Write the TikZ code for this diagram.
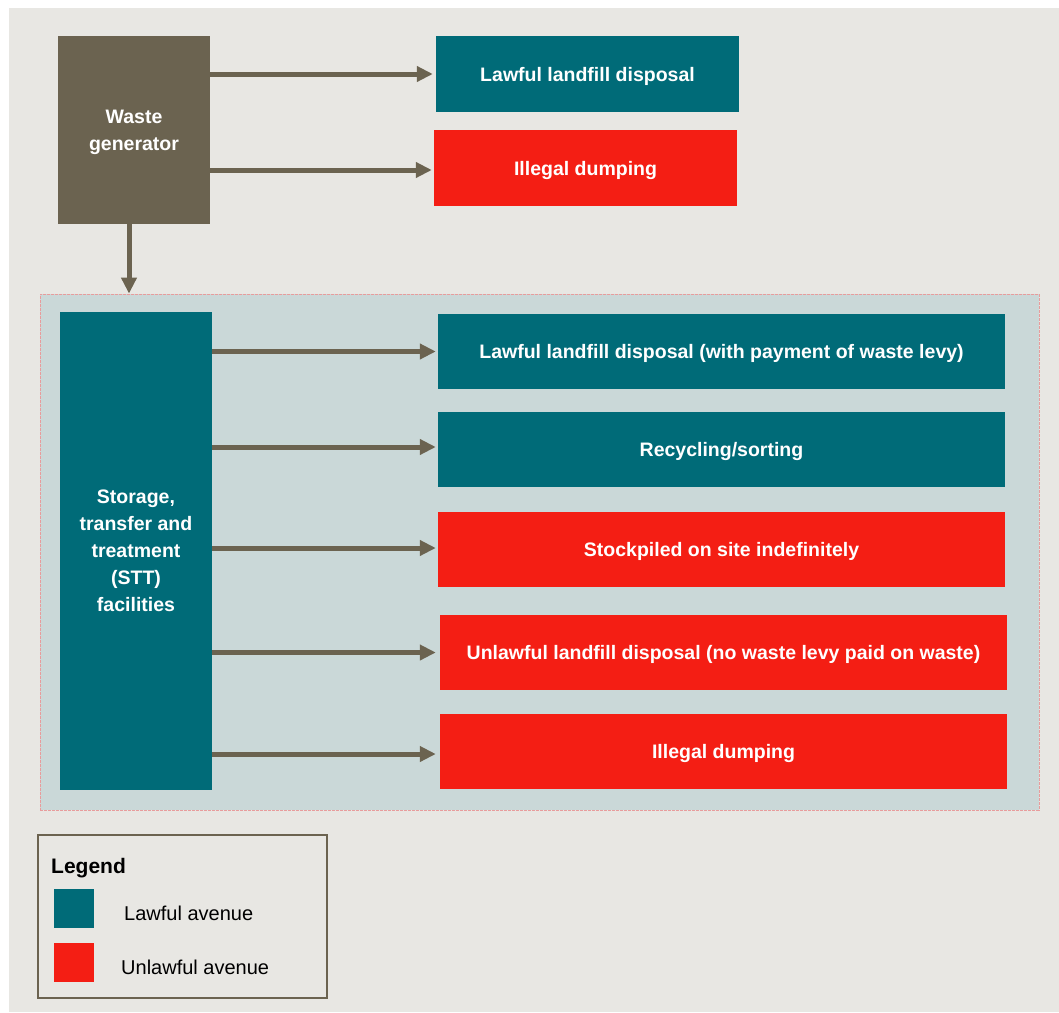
\documentclass[tikz,border=0pt]{standalone}
\usepackage{fontspec}
\setmainfont{Liberation Sans}
\usetikzlibrary{arrows.meta}
\definecolor{bg}{HTML}{E8E7E3}
\definecolor{teal}{HTML}{006B78}
\definecolor{redbox}{HTML}{F41E14}
\definecolor{olive}{HTML}{6B6350}
\definecolor{regionfill}{HTML}{CAD8D8}
\definecolor{regionline}{HTML}{E89C9C}
\tikzset{
  box/.style={draw=none, inner sep=0pt, align=center, text=white, text depth=0pt,
    font=\fontsize{19.5}{27}\selectfont\bfseries},
  lawful/.style={box, fill=teal},
  unlawful/.style={box, fill=redbox},
  arr/.style={draw=olive, line width=5pt, -{Triangle[length=16pt,width=15pt]}},
  swatch/.style={inner sep=0pt, minimum width=40pt, minimum height=39pt},
}
\begin{document}
\begin{tikzpicture}[x=1pt,y=-1pt]
\useasboundingbox (0,0) rectangle (1059,1012);
\fill[bg] (9,8) rectangle (1059,1012);
% region
\node[draw=regionline, fill=regionfill, line width=0.8pt, dash pattern=on 3pt off 1pt,
  inner sep=0pt, minimum width=999pt, minimum height=516pt] (region) at (539.5,552) {};
% waste generator
\node[box, fill=olive, minimum width=152pt, minimum height=188pt] (wg) at (134,130) {Waste\\generator};
\node[lawful, minimum width=303pt, minimum height=76pt] (t1) at (587.5,74) {Lawful landfill disposal};
\node[unlawful, minimum width=303pt, minimum height=76pt] (t2) at (585.5,168) {Illegal dumping};
% STT
\node[lawful, minimum width=152pt, minimum height=478pt] (stt) at (136,551) {Storage,\\transfer and\\treatment\\(STT)\\facilities};
\node[lawful, minimum width=567pt, minimum height=75pt] (b1) at (721.5,351.5) {Lawful landfill disposal (with payment of waste levy)};
\node[lawful, minimum width=567pt, minimum height=75pt] (b2) at (721.5,449.5) {Recycling/sorting};
\node[unlawful, minimum width=567pt, minimum height=75pt] (b3) at (721.5,549.5) {Stockpiled on site indefinitely};
\node[unlawful, minimum width=567pt, minimum height=75pt] (b4) at (723.5,652.5) {Unlawful landfill disposal (no waste levy paid on waste)};
\node[unlawful, minimum width=567pt, minimum height=75pt] (b5) at (723.5,751.5) {Illegal dumping};
% arrows
\draw[arr] (wg.east |- t1.west) -- ([xshift=-3pt]t1.west);
\draw[arr] ([yshift=-2pt]wg.east |- t2.west) -- ([xshift=-2pt,yshift=-2pt]t2.west);
\draw[arr] ([xshift=-5pt]wg.south) -- ([xshift=-5pt]wg.south |- region.north);
\draw[arr] (stt.east |- b1.west) -- ([xshift=-2pt]b1.west);
\draw[arr] ([yshift=2.5pt]stt.east |- b2.west) -- ([xshift=-2pt,yshift=2.5pt]b2.west);
\draw[arr] ([yshift=1.5pt]stt.east |- b3.west) -- ([xshift=-2pt,yshift=1.5pt]b3.west);
\draw[arr] (stt.east |- b4.west) -- ([xshift=-4pt]b4.west);
\draw[arr] ([yshift=-2.5pt]stt.east |- b5.west) -- ([xshift=-4pt,yshift=-2.5pt]b5.west);
% legend
\node[draw=olive, line width=1.2pt, inner sep=0pt, minimum width=289pt, minimum height=163pt] (legend) at (182.5,916.5) {};
\node[anchor=west, inner sep=0pt, font=\fontsize{21}{25}\selectfont\bfseries] (legtitle) at (51,868) {Legend};
\node[swatch, fill=teal] (sw1) at (74,908.5) {};
\node[swatch, fill=redbox] (sw2) at (74,962.5) {};
\node[anchor=west, inner sep=0pt, font=\fontsize{20}{24}\selectfont] (l1) at (124,913) {Lawful avenue};
\node[anchor=west, inner sep=0pt, font=\fontsize{20}{24}\selectfont] (l2) at (121,967) {Unlawful avenue};
\end{tikzpicture}
\end{document}
